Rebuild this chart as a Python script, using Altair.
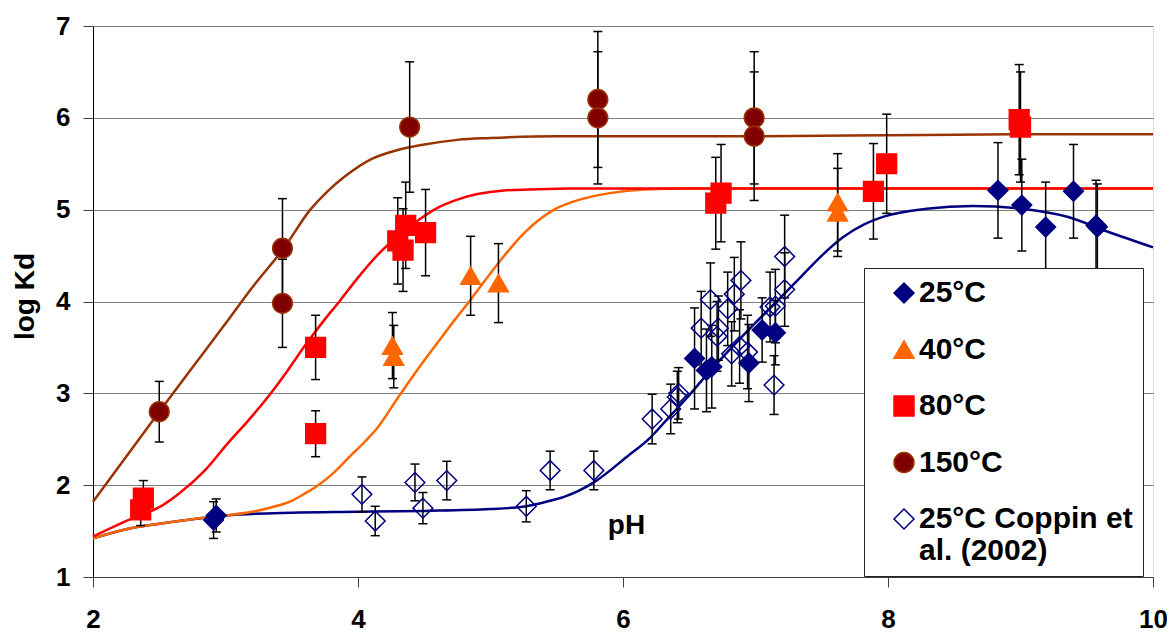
import altair as alt
import pandas as pd

FONT = "Liberation Sans"

# ---------------- data ----------------
series_names = ["25°C", "40°C", "80°C", "150°C", "25°C Coppin et al. (2002)"]

# 25°C (filled diamonds)
ph_25 = [2.91, 2.93, 6.54, 6.63, 6.67, 6.95, 7.05, 7.15, 8.83, 9.01, 9.19, 9.40, 9.57, 9.58]
kd_25 = [1.62, 1.67, 3.38, 3.25, 3.29, 3.33, 3.69, 3.66, 5.21, 5.05, 4.81, 5.20, 4.83, 4.81]
err_25 = [0.20, 0.18, 0.55, 0.45, 0.45, 0.42, 0.35, 0.35, 0.52, 0.50, 0.49, 0.51, 0.49, 0.47]

# 40°C (triangles)
ph_40 = [4.26, 4.27, 4.85, 5.06, 7.62, 7.62]
kd_40 = [3.52, 3.40, 4.28, 4.20, 5.08, 4.97]
err_40 = [0.36, 0.34, 0.43, 0.43, 0.53, 0.48]

# 80°C (squares)
ph_80 = [2.36, 2.38, 3.68, 3.68, 4.30, 4.34, 4.36, 4.51, 6.70, 6.74, 7.89, 7.99, 8.99, 9.00]
kd_80 = [1.73, 1.86, 3.50, 2.56, 4.66, 4.56, 4.83, 4.75, 5.07, 5.18, 5.20, 5.50, 5.98, 5.90]
err_80 = [0.17, 0.19, 0.35, 0.25, 0.47, 0.45, 0.47, 0.47, 0.50, 0.53, 0.52, 0.54, 0.60, 0.60]

# 150°C (circles)
ph_150 = [2.50, 3.43, 3.43, 4.39, 5.81, 5.81, 6.99, 6.99]
kd_150 = [2.80, 4.58, 3.98, 5.90, 6.20, 6.00, 6.00, 5.80]
err_150 = [0.33, 0.54, 0.48, 0.71, 0.74, 0.72, 0.72, 0.70]

# 25°C Coppin et al. (2002) (open diamonds)
ph_cop = [4.03, 4.13, 4.43, 4.49, 4.67, 5.27, 5.45, 5.78, 6.22, 6.36, 6.41, 6.42,
          6.59, 6.66, 6.71, 6.72, 6.79, 6.82, 6.84, 6.88, 6.89, 6.94, 7.11, 7.14,
          7.15, 7.22, 7.22]
kd_cop = [1.90, 1.61, 2.03, 1.75, 2.05, 1.77, 2.16, 2.16, 2.72, 2.83, 2.96, 3.00,
          3.71, 4.02, 3.62, 3.71, 3.92, 3.43, 4.08, 3.51, 4.23, 3.45, 3.94, 3.09,
          3.95, 4.13, 4.49]
err_cop = [0.19, 0.16, 0.20, 0.17, 0.21, 0.17, 0.21, 0.21, 0.27, 0.27, 0.28, 0.28,
           0.40, 0.40, 0.38, 0.35, 0.40, 0.35, 0.40, 0.40, 0.42, 0.40, 0.38, 0.32,
           0.40, 0.40, 0.45]

# fitted curves
curve25_ph = [2.0, 2.25, 2.5, 2.75, 3.0, 3.5, 4.0, 4.5, 5.0, 5.27, 5.45, 5.55, 5.78, 6.03,
              6.2, 6.36, 6.5, 6.66, 6.9, 7.16, 7.35, 7.5, 7.66, 7.82, 7.98, 8.29, 8.64,
              9.01, 9.36, 9.66, 10.0]
curve25_kd = [1.42, 1.52, 1.58, 1.63, 1.67, 1.70, 1.71, 1.72, 1.74, 1.77, 1.83, 1.87, 2.03,
              2.31, 2.51, 2.76, 2.98, 3.25, 3.62, 4.00, 4.28, 4.50, 4.70, 4.84, 4.93, 5.01,
              5.04, 5.01, 4.92, 4.76, 4.59]

curve40_ph = [2.0, 2.25, 2.5, 2.75, 3.0, 3.2, 3.35, 3.5, 3.6, 3.7, 3.82, 3.95, 4.05, 4.15,
              4.3, 4.45, 4.6, 4.73, 4.85, 5.06, 5.25, 5.48, 5.7, 5.9, 6.16, 6.5, 7.0, 8.0, 10.0]
curve40_kd = [1.42, 1.52, 1.58, 1.63, 1.67, 1.71, 1.76, 1.83, 1.91, 2.00, 2.14, 2.33, 2.47,
              2.63, 2.95, 3.26, 3.55, 3.80, 4.02, 4.42, 4.74, 5.00, 5.12, 5.18, 5.22, 5.23,
              5.23, 5.23, 5.23]

curve80_ph = [2.0, 2.3, 2.5, 2.65, 2.85, 3.02, 3.17, 3.32, 3.46, 3.6, 3.73, 3.87, 4.0, 4.15,
              4.3, 4.45, 4.6, 4.75, 4.9, 5.1, 5.3, 5.6, 6.0, 7.0, 8.0, 9.0, 10.0]
curve80_kd = [1.44, 1.64, 1.76, 1.91, 2.17, 2.46, 2.70, 2.96, 3.23, 3.52, 3.77, 4.02, 4.26,
              4.51, 4.71, 4.88, 5.02, 5.11, 5.17, 5.21, 5.22, 5.23, 5.23, 5.23, 5.23, 5.23, 5.23]

curve150_ph = [2.0, 2.25, 2.5, 2.75, 3.0, 3.2, 3.44, 3.64, 3.77, 3.9, 4.1, 4.3, 4.5, 4.75,
               5.0, 5.5, 6.0, 7.0, 8.0, 9.0, 10.0]
curve150_kd = [1.82, 2.31, 2.80, 3.28, 3.76, 4.15, 4.58, 5.00, 5.20, 5.36, 5.55, 5.65, 5.71,
               5.76, 5.78, 5.80, 5.80, 5.80, 5.81, 5.82, 5.82]

# ---------------- styles ----------------
shapes = ["diamond", "triangle-up", "square", "circle", "diamond"]
fills = ["#000080", "#FF6600", "#FF0000", "#800000", "transparent"]
strokes = ["#000080", "#FF6600", "#FF0000", "#993300", "#000080"]
zorder = [1, 2, 3, 4, 0]

# ---------------- tables ----------------
frames = []
for name, phs, kds, errs, z in [
    (series_names[4], ph_cop, kd_cop, err_cop, zorder[4]),
    (series_names[0], ph_25, kd_25, err_25, zorder[0]),
    (series_names[1], ph_40, kd_40, err_40, zorder[1]),
    (series_names[2], ph_80, kd_80, err_80, zorder[2]),
    (series_names[3], ph_150, kd_150, err_150, zorder[3]),
]:
    frames.append(pd.DataFrame({"ph": phs, "kd": kds, "err": errs, "series": name, "z": z}))
points = pd.concat(frames, ignore_index=True)
points["lo"] = points["kd"] - points["err"]
points["hi"] = points["kd"] + points["err"]

curve_frames = []
for phs, kds in [
    (curve25_ph, curve25_kd),
    (curve40_ph, curve40_kd),
    (curve80_ph, curve80_kd),
    (curve150_ph, curve150_kd),
]:
    curve_frames.append(pd.DataFrame({"ph": phs, "kd": kds}))

xscale = alt.Scale(domain=[2, 10], nice=False, zero=False)
yscale = alt.Scale(domain=[1, 7], nice=False, zero=False)

x_axis = alt.Axis(
    values=[2, 4, 6, 8, 10], grid=False, tickSize=10, tickColor="#404040",
    domainColor="#404040", labelFont=FONT, labelFontSize=26, labelFontWeight="bold",
    labelColor="black", labelPadding=19, labelFlush=False,
    title="pH", titleFont=FONT, titleFontSize=28, titleFontWeight="bold", titleColor="black",
    titleX=533, titleY=-44, titleBaseline="alphabetic", titleAlign="center",
)
y_axis = alt.Axis(
    values=[1, 2, 3, 4, 5, 6, 7], grid=True, gridColor="#808080", gridWidth=1,
    tickSize=10, tickColor="#404040", domainColor="#000000",
    labelFont=FONT, labelFontSize=26, labelFontWeight="bold", labelColor="black",
    labelPadding=13, labelFlush=False,
    title="log Kd", titleFont=FONT, titleFontSize=28, titleFontWeight="bold",
    titleColor="black", titleAngle=270, titleX=-60, titleY=270,
    titleBaseline="alphabetic", titleAlign="center",
)

X = lambda f: alt.X(f, scale=xscale, axis=x_axis)
Y = lambda f: alt.Y(f, scale=yscale, axis=y_axis)


def curve(df, color):
    return alt.Chart(df).mark_line(color=color, strokeWidth=2.5, interpolate="monotone").encode(
        x=X("ph:Q"), y=Y("kd:Q"),
    )


c25 = curve(curve_frames[0], "#000080")
c40 = curve(curve_frames[1], "#FF6600")
c80 = curve(curve_frames[2], "#FF0000")
c150 = curve(curve_frames[3], "#993300")

base = alt.Chart(points)
rules = base.mark_rule(color="black", strokeWidth=1.5).encode(
    x=X("ph:Q"), y=Y("lo:Q"), y2="hi:Q",
)
tick_lo = base.mark_tick(orient="horizontal", size=9, thickness=1.5, color="black", opacity=1).encode(
    x=X("ph:Q"), y=Y("lo:Q"),
)
tick_hi = base.mark_tick(orient="horizontal", size=9, thickness=1.5, color="black", opacity=1).encode(
    x=X("ph:Q"), y=Y("hi:Q"),
)

leg = alt.Legend(
    title=None, orient="none", legendX=771, legendY=242,
    fillColor="white", strokeColor="#222222", padding=10,
    labelFont=FONT, labelFontSize=30, labelFontWeight="bold", labelColor="black",
    labelLimit=600, labelOffset=0, symbolOffset=15, rowPadding=26.5,
    symbolSize=400, symbolStrokeWidth=1.5,
    labelExpr=("indexof(datum.label, 'Coppin') >= 0 ? "
               "['25°C Coppin et', 'al. (2002)'] : datum.label"),
)

pts = base.mark_point(opacity=1, strokeWidth=1.5, size=390).encode(
    x=X("ph:Q"), y=Y("kd:Q"),
    shape=alt.Shape("series:N", scale=alt.Scale(domain=series_names, range=shapes), legend=leg),
    fill=alt.Fill("series:N", scale=alt.Scale(domain=series_names, range=fills), legend=leg),
    stroke=alt.Stroke("series:N", scale=alt.Scale(domain=series_names, range=strokes), legend=leg),
    order=alt.Order("z:Q"),
)

chart = alt.layer(c25, c40, c80, c150, rules, tick_lo, tick_hi, pts).properties(
    width=1060, height=551,
    padding={"left": 85, "top": 18, "right": 14, "bottom": 56},
    autosize=alt.AutoSizeParams(type="none"),
    background="white",
).configure_view(stroke="#808080", strokeWidth=1).configure(font=FONT)

chart.save("out.html", embed_options={"renderer": "svg", "actions": False})
